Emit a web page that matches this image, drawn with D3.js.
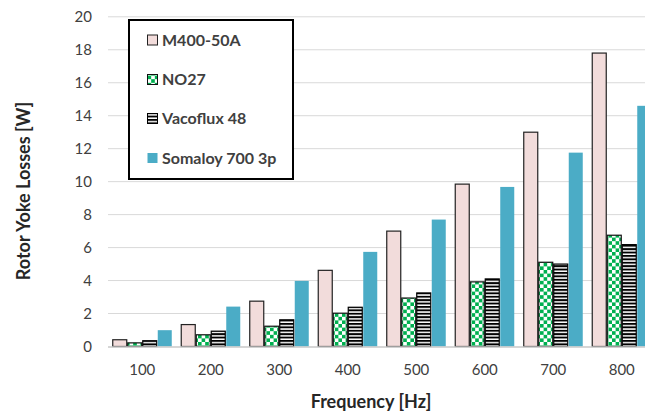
<!DOCTYPE html>
<html><head><meta charset="utf-8">
<script src="https://cdn.jsdelivr.net/npm/d3@7"></script>
<style>
body{margin:0;background:#fff;}
svg{display:block;font-family:Lato, "Open Sans", sans-serif;}
</style></head>
<body><svg id="c" width="645" height="417"></svg>
<script>
const categories = ["100","200","300","400","500","600","700","800"];
const seriesNames = ["M400-50A","NO27","Vacoflux 48","Somaloy 700 3p"];
const m400 = [0.41, 1.33, 2.75, 4.62, 7.0, 9.85, 13.0, 17.8];
const no27 = [0.22, 0.71, 1.23, 2.02, 2.94, 3.92, 5.11, 6.75];
const vacoflux = [0.35, 0.93, 1.62, 2.38, 3.25, 4.1, 5.0, 6.18];
const somaloy = [0.99, 2.42, 3.98, 5.74, 7.7, 9.68, 11.76, 14.6];
const yTicks = [0,2,4,6,8,10,12,14,16,18,20];

const seriesValues = [m400, no27, vacoflux, somaloy];
const svg = d3.select("#c");
const defs = svg.append("defs");
// checker pattern
const cs = 3.6;
const chk = defs.append("pattern").attr("id","chk").attr("patternUnits","userSpaceOnUse")
  .attr("width",2*cs).attr("height",2*cs);
chk.append("rect").attr("width",2*cs).attr("height",2*cs).attr("fill","#fff");
chk.append("rect").attr("width",cs).attr("height",cs).attr("fill","#00b050");
chk.append("rect").attr("x",cs).attr("y",cs).attr("width",cs).attr("height",cs).attr("fill","#00b050");
// stripes
const sp = 3.4;
const str = defs.append("pattern").attr("id","str").attr("patternUnits","userSpaceOnUse")
  .attr("width",8).attr("height",sp);
str.append("rect").attr("width",8).attr("height",sp).attr("fill","#fff");
str.append("rect").attr("width",8).attr("height",1.9).attr("fill","#000");

const fills = ["#f2dcdb","url(#chk)","url(#str)","#4bacc6"];
const strokes = ["#222","#111","#000","none"];

const x0 = d3.scaleBand().domain(categories).range([108,656]).paddingInner(0.124).paddingOuter(0.062);
const x1 = d3.scaleBand().domain(seriesNames).range([0,x0.bandwidth()]);
const y = d3.scaleLinear().domain([0,20]).range([346.5,16.8]);

// gridlines
svg.append("g").selectAll("line").data(yTicks.filter(d=>d>0)).join("line")
  .attr("x1",108).attr("x2",645).attr("y1",d=>y(d)).attr("y2",d=>y(d))
  .attr("stroke","#d9d9d9").attr("stroke-width",1);

// y tick labels
svg.append("g").selectAll("text").data(yTicks).join("text")
  .attr("x",92).attr("y",d=>y(d)).attr("dy","0.35em").attr("text-anchor","end")
  .attr("font-size",15).attr("fill","#404040").text(d=>d);

// bars
const g = svg.append("g");
categories.forEach((c,i)=>{
  seriesNames.forEach((s,j)=>{
    const v = seriesValues[j][i];
    const r = g.append("rect")
      .attr("x", x0(c)+x1(s)+0.5).attr("y", y(v))
      .attr("width", x1.bandwidth()-1).attr("height", y(0)-y(v))
      .attr("fill", fills[j]);
    if (strokes[j]!=="none") r.attr("stroke",strokes[j]).attr("stroke-width",1.2);
  });
});

// baseline
svg.append("line").attr("x1",108).attr("x2",645).attr("y1",y(0)+0.5).attr("y2",y(0)+0.5)
  .attr("stroke","#c8c8c8").attr("stroke-width",1.5);

// x tick labels
svg.append("g").selectAll("text").data(categories).join("text")
  .attr("x",d=>x0(d)+x0.bandwidth()/2).attr("y",375).attr("text-anchor","middle")
  .attr("font-size",15).attr("fill","#404040").text(d=>d);

// axis titles
svg.append("text").attr("x",371).attr("y",408).attr("text-anchor","middle")
  .attr("font-size",18).attr("font-weight","bold").attr("fill","#262626").text("Frequency [Hz]");
svg.append("text").attr("transform","translate(30,191) rotate(-90)").attr("text-anchor","middle")
  .attr("font-size",18).attr("font-weight","bold").attr("fill","#262626").text("Rotor Yoke Losses [W]");

// legend
const lg = svg.append("g");
lg.append("rect").attr("x",129).attr("y",20).attr("width",164).attr("height",159)
  .attr("fill","#fff").attr("stroke","#000").attr("stroke-width",2);
const ly = [40,79.5,118.5,158];
seriesNames.forEach((s,j)=>{
  const r = lg.append("rect").attr("x",147.5).attr("y",ly[j]-5).attr("width",10).attr("height",10)
    .attr("fill",fills[j]);
  if (strokes[j]!=="none") r.attr("stroke",strokes[j]).attr("stroke-width",1);
  lg.append("text").attr("x",162).attr("y",ly[j]).attr("dy","0.36em")
    .attr("font-size",16).attr("font-weight","bold").attr("fill","#404040").text(s);
});
</script></body></html>
